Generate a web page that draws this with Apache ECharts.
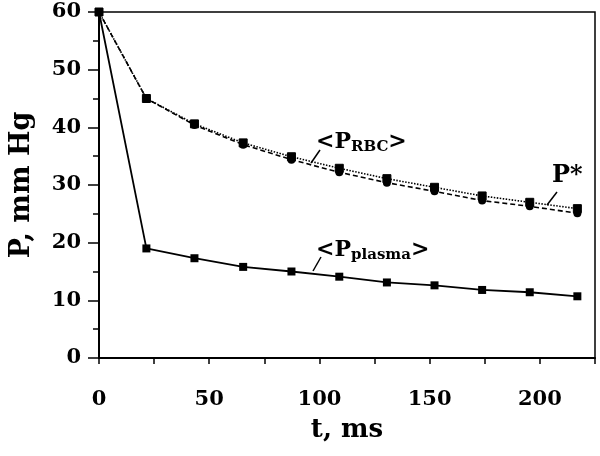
<!DOCTYPE html>
<html>
<head>
<meta charset="utf-8">
<script src="https://cdn.jsdelivr.net/npm/echarts@6/dist/echarts.min.js"></script>
<style>
  html, body { margin: 0; padding: 0; background: #fff; }
  #main { width: 600px; height: 456px; }
</style>
</head>
<body>
<div id="main"></div>
<script>
// time points (ms) and pressures (mm Hg)
const tms     = [0, 21.5, 43.3, 65.4, 87.3, 109, 130.6, 152.2, 173.8, 195.4, 217];
const pPlasma = [60, 19.0, 17.3, 15.8, 15.0, 14.1, 13.1, 12.6, 11.8, 11.4, 10.7];
const pStar   = [60, 45.0, 40.6, 37.3, 34.9, 32.9, 31.1, 29.6, 28.1, 27.0, 25.9];
const pRBC    = [60, 45.0, 40.4, 37.0, 34.4, 32.2, 30.4, 28.9, 27.3, 26.3, 25.1];

const xTicks = [0, 50, 100, 150, 200];

const FONT = 'DejaVu Serif';

function pairs(ys) {
  return tms.map((t, i) => [t, ys[i]]);
}

var myChart = echarts.init(document.getElementById('main'));

var option = {
  backgroundColor: '#fff',
  animation: false,
  grid: {
    left: 97, right: 5, top: 12, bottom: 98,
    show: true, borderColor: '#000', borderWidth: 1.5
  },
  xAxis: {
    type: 'value',
    min: 0, max: 225, interval: 25,
    name: 't, ms',
    nameLocation: 'middle',
    nameGap: 59,
    nameTextStyle: { fontFamily: FONT, fontWeight: 'bold', fontSize: 26, color: '#000' },
    axisLine: { lineStyle: { color: '#000', width: 2 } },
    axisTick: { inside: false, length: 6, lineStyle: { color: '#000', width: 1.5 } },
    axisLabel: {
      margin: 31,
      fontFamily: FONT, fontWeight: 'bold', fontSize: 21, color: '#000',
      formatter: v => xTicks.indexOf(v) >= 0 ? String(v) : ''
    },
    splitLine: { show: false }
  },
  yAxis: {
    type: 'value',
    min: 0, max: 60, interval: 10,
    name: 'P, mm Hg',
    nameLocation: 'middle',
    nameGap: 64,
    nameTextStyle: { fontFamily: FONT, fontWeight: 'bold', fontSize: 27, color: '#000' },
    axisLine: { lineStyle: { color: '#000', width: 2 } },
    axisTick: { length: 11, lineStyle: { color: '#000', width: 1.5 } },
    minorTick: { show: true, splitNumber: 2, length: 6, lineStyle: { color: '#000', width: 1.5 } },
    axisLabel: { margin: 18, fontFamily: FONT, fontWeight: 'bold', fontSize: 21, color: '#000' },
    splitLine: { show: false }
  },
  series: [
    {
      name: 'P*',
      type: 'line',
      data: pairs(pStar),
      symbol: 'rect', symbolSize: 8,
      lineStyle: { color: '#000', width: 1.6, type: [1.5, 1.5] },
      itemStyle: { color: '#000', borderColor: '#000', borderWidth: 1 }
    },
    {
      name: '<P_RBC>',
      type: 'line',
      data: pairs(pRBC),
      symbol: 'circle', symbolSize: 8,
      lineStyle: { color: '#000', width: 1.6, type: [5, 3] },
      itemStyle: { color: '#000' }
    },
    {
      name: '<P_plasma>',
      type: 'line',
      data: pairs(pPlasma),
      symbol: 'rect', symbolSize: 8,
      lineStyle: { color: '#000', width: 1.8 },
      itemStyle: { color: '#000' }
    }
  ]
};

myChart.setOption(option);

// curve labels with leader lines
const rich = {
  b: { fontFamily: FONT, fontWeight: 'bold', fontSize: 22, lineHeight: 24, verticalAlign: 'top', color: '#000' },
  s: { fontFamily: FONT, fontWeight: 'bold', fontSize: 15, lineHeight: 15, padding: [15, 0, 0, 0], verticalAlign: 'bottom', color: '#000' }
};

myChart.setOption({
  graphic: [
    { type: 'text', style: { x: 316, y: 131, text: '{b|<P}{s|RBC}{b|>}', rich: rich, verticalAlign: 'top' } },
    { type: 'line', shape: { x1: 320, y1: 150, x2: 311, y2: 163 }, style: { stroke: '#000', lineWidth: 1.5 } },
    { type: 'text', style: { x: 552, y: 164, text: 'P*', fontFamily: FONT, fontWeight: 'bold', fontSize: 24, fill: '#000', verticalAlign: 'top' } },
    { type: 'line', shape: { x1: 557, y1: 192, x2: 547, y2: 205 }, style: { stroke: '#000', lineWidth: 1.5 } },
    { type: 'text', style: { x: 316, y: 239, text: '{b|<P}{s|plasma}{b|>}', rich: rich, verticalAlign: 'top' } },
    { type: 'line', shape: { x1: 321, y1: 257, x2: 313, y2: 271 }, style: { stroke: '#000', lineWidth: 1.5 } }
  ]
});
</script>
</body>
</html>
